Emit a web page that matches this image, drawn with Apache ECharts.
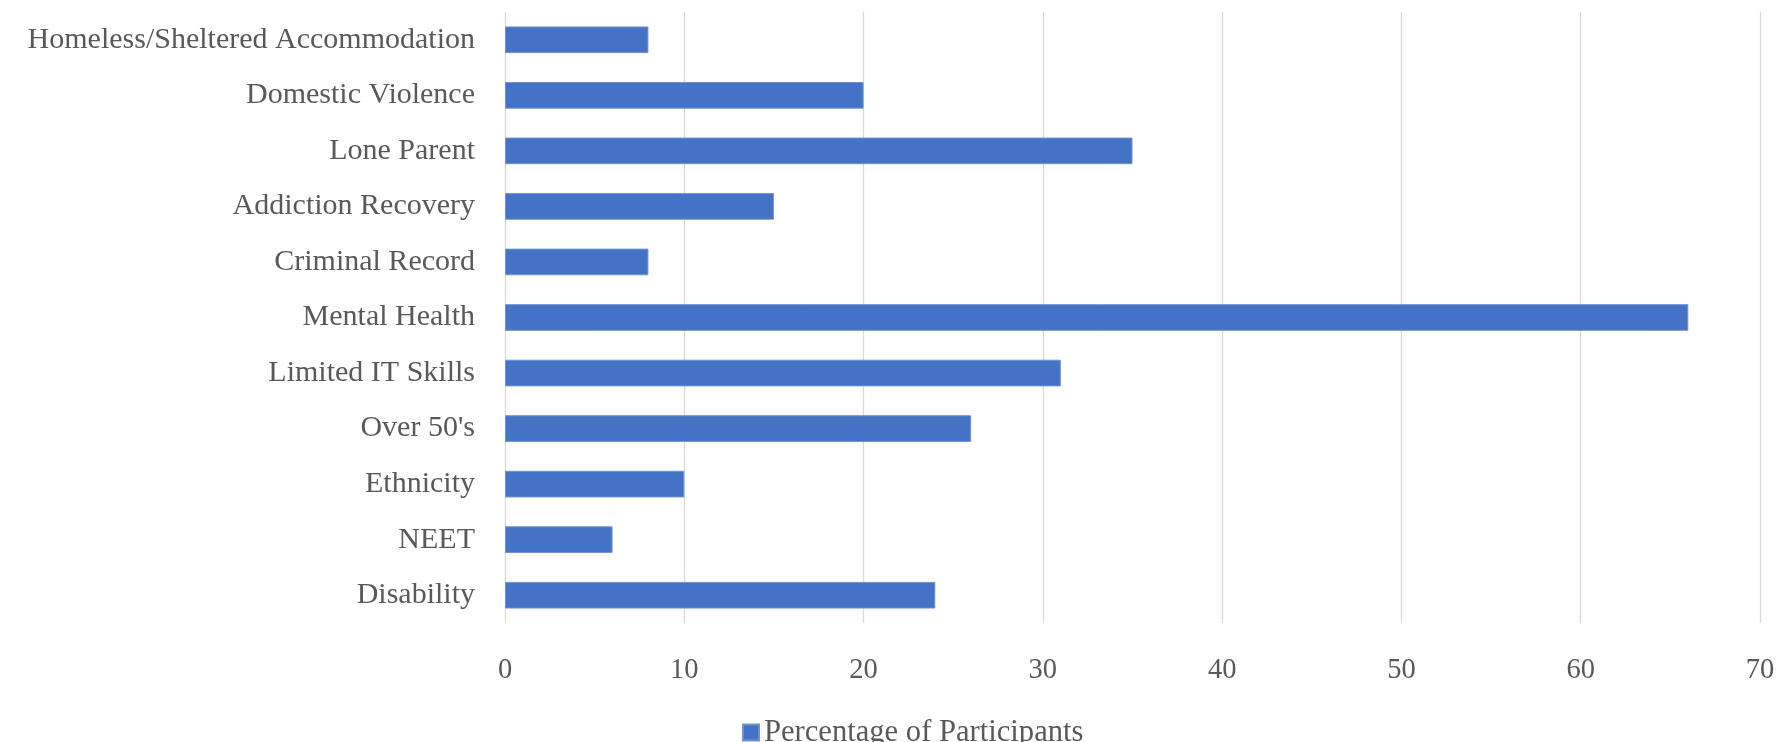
<!DOCTYPE html>
<html>
<head>
<meta charset="utf-8">
<script src="https://cdn.jsdelivr.net/npm/echarts@6/dist/echarts.min.js"></script>
<style>
  html, body { margin: 0; padding: 0; background: #ffffff; }
  #chart { width: 1780px; height: 742px; }
</style>
</head>
<body>
<div id="chart"></div>
<script>
// Categories listed bottom to top (as drawn on the category axis)
const categories = [
  "Disability",
  "NEET",
  "Ethnicity",
  "Over 50's",
  "Limited IT Skills",
  "Mental Health",
  "Criminal Record",
  "Addiction Recovery",
  "Lone Parent",
  "Domestic Violence",
  "Homeless/Sheltered Accommodation"
];
const seriesName = "Percentage of Participants";
const percentages = [24, 6, 10, 26, 31, 66, 8, 15, 35, 20, 8];
const axisMin = 0;
const axisMax = 70;
const axisInterval = 10;

const FONT = "'Liberation Serif', 'DejaVu Serif', serif";
const TEXT = "#595959";

const chart = echarts.init(document.getElementById('chart'), null, { renderer: 'canvas' });
chart.setOption({
  backgroundColor: '#ffffff',
  animation: false,
  textStyle: { fontFamily: FONT },
  grid: { left: 505, right: 20, top: 12, bottom: 119, containLabel: false },
  legend: {
    data: [seriesName],
    left: 737,
    top: 712,
    itemWidth: 16,
    itemHeight: 16,
    itemGap: 10,
    icon: 'rect',
    textStyle: { fontFamily: FONT, fontSize: 30.6, color: TEXT }
  },
  xAxis: {
    type: 'value',
    min: axisMin,
    max: axisMax,
    interval: axisInterval,
    axisLine: { show: false },
    axisTick: { show: false },
    splitLine: { show: true, lineStyle: { color: '#d9d9d9', width: 1.3 } },
    axisLabel: { fontFamily: FONT, fontSize: 28.5, color: TEXT, margin: 33 }
  },
  yAxis: {
    type: 'category',
    data: categories,
    axisLine: { show: false },
    axisTick: { show: false },
    axisLabel: { fontFamily: FONT, fontSize: 30, color: TEXT, margin: 30 }
  },
  series: [{
    name: seriesName,
    type: 'bar',
    data: percentages,
    barCategoryGap: '52%',
    itemStyle: { color: '#4472C4', borderColor: '#6f92d3', borderWidth: 1 }
  }]
});
</script>
</body>
</html>
